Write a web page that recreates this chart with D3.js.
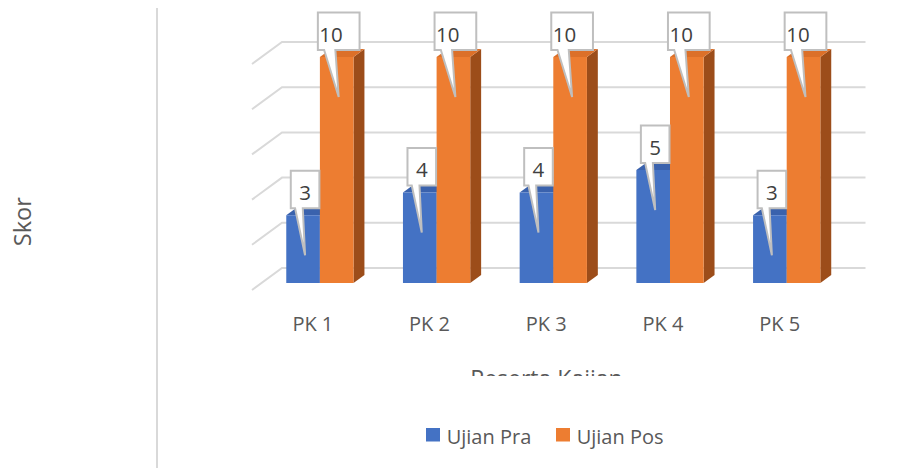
<!DOCTYPE html>
<html><head><meta charset="utf-8">
<script src="https://cdn.jsdelivr.net/npm/d3@7"></script>
<style>html,body{margin:0;padding:0;background:#fff}svg{display:block}</style>
</head><body>
<script>
const categories = ["PK 1", "PK 2", "PK 3", "PK 4", "PK 5"];
const seriesNames = ["Ujian Pra", "Ujian Pos"];
const ujianPra = [3, 4, 4, 5, 3];
const ujianPos = [10, 10, 10, 10, 10];
const yTicks = [0, 2, 4, 6, 8, 10];
const yTitle = "Skor";
const xTitle = "Peserta Kajian";

const W = 914, H = 470;
const font = "'Open Sans', sans-serif";
const textColor = "#595959";
const colors = {"Ujian Pra": {front: "#4472c4", top: "#3a62ad", side: "#2f5597"},
                "Ujian Pos": {front: "#ed7d31", top: "#dc7029", side: "#9c4d1a"}};

const svg = d3.select("body").append("svg").attr("width", W).attr("height", H);

// 3D geometry
const depth = {dx: 30, dy: -22};
const floorY = 290;
const x = d3.scaleBand().domain(categories).range([252, 835.5]).padding(0);
const xs = d3.scaleBand().domain(seriesNames).range([0, x.bandwidth()]).paddingInner(0).paddingOuter(0.735);
const y = d3.scaleLinear().domain([0, 10]).range([floorY, floorY - 226]);
const t1 = 7 / 22, t2 = 15 / 22;
const P = (px, py, t) => [px + depth.dx * t, py + depth.dy * t];

// vertical separator line
svg.append("line").attr("x1", 157).attr("x2", 157).attr("y1", 8).attr("y2", 468)
  .attr("stroke", "#d9d9d9").attr("stroke-width", 2);

// gridlines
const xL = x.range()[0], xR = x.range()[1];
svg.append("g").selectAll("path").data(yTicks).join("path")
  .attr("d", v => {
    const a = P(xL, y(v), 0), b = P(xL, y(v), 1), c = P(xR, y(v), 1);
    return `M${a}L${b}L${c}`;
  })
  .attr("fill", "none").attr("stroke", "#d9d9d9").attr("stroke-width", 2);

// bars
const data = [];
categories.forEach((c, i) => {
  data.push({cat: c, s: "Ujian Pra", v: ujianPra[i]});
  data.push({cat: c, s: "Ujian Pos", v: ujianPos[i]});
});
const barG = svg.append("g");
data.forEach(d => {
  const x0 = x(d.cat) + xs(d.s), x1 = x0 + xs.bandwidth();
  const col = colors[d.s];
  const poly = pts => "M" + pts.map(p => p.join(",")).join("L") + "Z";
  const ft = P(x0, y(d.v), t1), ftr = P(x1, y(d.v), t1), fb = P(x0, y(0), t1), fbr = P(x1, y(0), t1);
  const bt = P(x0, y(d.v), t2), btr = P(x1, y(d.v), t2), bbr = P(x1, y(0), t2);
  barG.append("path").attr("d", poly([ftr, btr, bbr, fbr])).attr("fill", col.side);
  barG.append("path").attr("d", poly([ft, bt, btr, ftr])).attr("fill", col.top);
  barG.append("path").attr("d", poly([ft, ftr, fbr, fb])).attr("fill", col.front);
  d.anchor = [(ft[0] + ftr[0]) / 2 + 2, ft[1] + 40];
});

// callout labels
const labG = svg.append("g");
data.forEach(d => {
  const txt = String(d.v);
  const bw = txt.length > 1 ? 41.7 : 28.6, bh = 37.5;
  const [ax, ay] = d.anchor;
  const left = ax - bw / 2, bottom = ay - 47, top = bottom - bh;
  const b1 = left + bw * 0.15, b2 = left + bw * 0.42;
  const path = `M${left},${top}L${left + bw},${top}L${left + bw},${bottom}L${b2},${bottom}L${ax},${ay}L${b1},${bottom}L${left},${bottom}Z`;
  labG.append("path").attr("d", path).attr("fill", "#fff").attr("stroke", "#bfbfbf").attr("stroke-width", 2)
    .attr("stroke-linejoin", "miter");
  const t = labG.append("text").attr("font-family", font).attr("font-size", 20.5).attr("fill", "#404040")
    .attr("y", bottom - 8.5).text(txt);
  if (txt.length > 1) t.attr("x", left + 1.5);
  else t.attr("x", left + bw / 2).attr("text-anchor", "middle");
});

// category labels
svg.append("g").selectAll("text").data(categories).join("text")
  .attr("x", c => x(c) + x.bandwidth() / 2 + 2.5).attr("y", 331)
  .attr("text-anchor", "middle").attr("font-family", font).attr("font-size", 20).attr("fill", textColor)
  .text(c => c);

// x title, clipped
svg.append("clipPath").attr("id", "xclip").append("rect").attr("x", 0).attr("y", 0).attr("width", W).attr("height", 376);
svg.append("text").attr("clip-path", "url(#xclip)").attr("x", 546.5).attr("y", 386.5)
  .attr("text-anchor", "middle").attr("font-family", font).attr("font-size", 23).attr("fill", textColor)
  .text(xTitle);

// y title
svg.append("text").attr("transform", "translate(30.5,221.7) rotate(-90)")
  .attr("text-anchor", "middle").attr("font-family", font).attr("font-size", 23.5).attr("fill", textColor)
  .text(yTitle);

// legend
const legX = [426, 556];
const lg = svg.append("g").selectAll("g").data(seriesNames).join("g")
  .attr("transform", (s, i) => `translate(${legX[i]},428)`);
lg.append("rect").attr("width", 14).attr("height", 13.5).attr("fill", s => colors[s].front);
lg.append("text").attr("x", 20.7).attr("y", 16).attr("font-family", font).attr("font-size", 20)
  .attr("fill", textColor).text(s => s);
</script>
</body></html>
